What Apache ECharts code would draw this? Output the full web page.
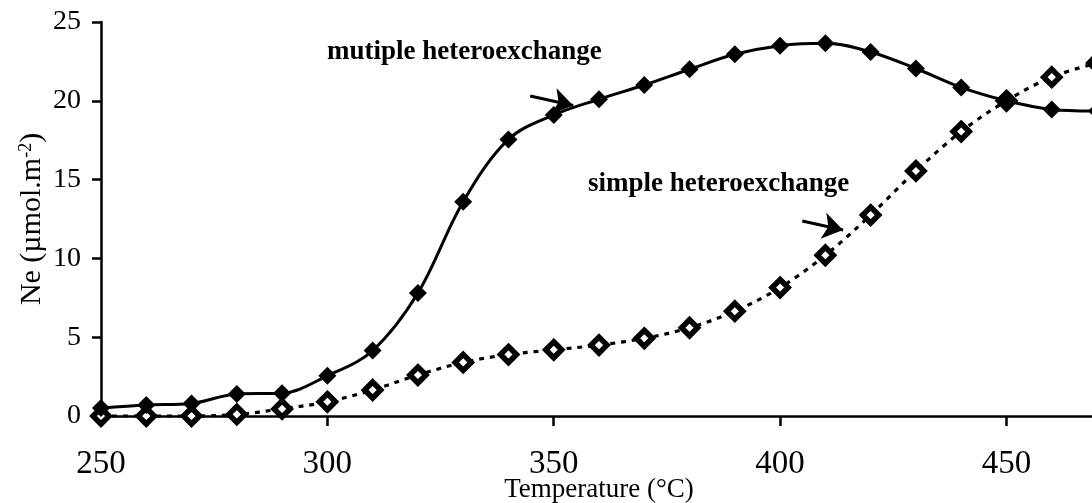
<!DOCTYPE html>
<html>
<head>
<meta charset="utf-8">
<script src="https://cdn.jsdelivr.net/npm/echarts@6/dist/echarts.min.js"></script>
<style>
    html, body { margin: 0; padding: 0; background: #fff; }
    #chart { width: 1092px; height: 503px; }
</style>
</head>
<body>
<div id="chart"></div>
<script>
    // temperature (°C)
    const temps = [250, 260, 270, 280, 290, 300, 310, 320, 330, 340, 350, 360, 370, 380, 390, 400, 410, 420, 430, 440, 450, 460, 470];
    // Ne (µmol.m-2)
    const multipleVals = [0.5, 0.7, 0.8, 1.4, 1.45, 2.55, 4.15, 7.8, 13.6, 17.55, 19.1, 20.1, 21.0, 22.0, 22.95, 23.5, 23.65, 23.1, 22.05, 20.85, 20.0, 19.45, 19.35];
    const simpleVals = [0, 0, 0, 0.1, 0.45, 0.9, 1.65, 2.6, 3.4, 3.9, 4.2, 4.5, 4.93, 5.6, 6.65, 8.15, 10.2, 12.75, 15.55, 18.05, 20.0, 21.5, 22.4];
    const xTickLabels = [250, 300, 350, 400, 450];
    const yTickLabels = [0, 5, 10, 15, 20, 25];
    // arrows pointing to the curves, [from, to] in data space
    const arrowMultiple = [[344.8, 20.3], [354.3, 19.7]];
    const arrowSimple = [[404.9, 12.37], [413.9, 11.8]];

    const serif = "Liberation Serif";
    const chart = echarts.init(document.getElementById("chart"));

    const pair = (a, b) => a.map((v, i) => [v, b[i]]);

    const arrowLine = (pts) => [{ coord: pts[0] }, { coord: pts[1] }];

    const option = {
        animation: false,
        grid: { left: 101, top: 22, width: 996, height: 394, containLabel: false, outerBoundsMode: "none" },
        xAxis: {
            type: "value",
            min: 250,
            max: 470,
            interval: 50,
            name: "Temperature (°C)",
            nameLocation: "middle",
            nameGap: 60,
            nameMoveOverlap: false,
            nameTextStyle: { fontFamily: serif, fontSize: 27, color: "#000" },
            axisLine: { lineStyle: { color: "#000", width: 2.5 } },
            axisTick: { inside: false, length: 10, lineStyle: { color: "#000", width: 2.5 } },
            axisLabel: {
                margin: 32,
                fontFamily: serif,
                fontSize: 33,
                color: "#000",
                formatter: (v) => (xTickLabels.indexOf(v) >= 0 ? String(v) : "")
            },
            splitLine: { show: false }
        },
        yAxis: {
            type: "value",
            min: 0,
            max: 25,
            interval: 5,
            name: "{n|Ne (µmol.m}{s|-2}{n|)}",
            nameLocation: "middle",
            nameGap: 54,
            nameMoveOverlap: false,
            nameTextStyle: {
                rich: {
                    n: { fontFamily: serif, fontSize: 30, color: "#000" },
                    s: { fontFamily: serif, fontSize: 18, color: "#000", verticalAlign: "top", padding: [0, 0, 12, 0] }
                }
            },
            axisLine: { show: true, lineStyle: { color: "#000", width: 2.5 } },
            axisTick: { show: true, length: 9, lineStyle: { color: "#000", width: 2.5 } },
            axisLabel: {
                margin: 20,
                fontFamily: serif,
                fontSize: 28,
                color: "#000",
                formatter: (v) => (yTickLabels.indexOf(v) >= 0 ? String(v) : "")
            },
            splitLine: { show: false }
        },
        graphic: [
            {
                type: "text",
                left: 327,
                top: 39,
                style: { text: "mutiple heteroexchange", font: "bold 27px " + serif, fill: "#000" }
            },
            {
                type: "text",
                left: 588,
                top: 171,
                style: { text: "simple heteroexchange", font: "bold 27px " + serif, fill: "#000" }
            }
        ],
        series: [
            {
                name: "mutiple heteroexchange",
                type: "line",
                smooth: 0.35,
                clip: false,
                data: pair(temps, multipleVals),
                symbol: "diamond",
                symbolSize: [18, 18],
                itemStyle: { color: "#000" },
                lineStyle: { color: "#000", width: 3 },
                markLine: {
                    silent: true,
                    symbol: ["none", "arrow"],
                    symbolSize: 20,
                    label: { show: false },
                    itemStyle: { color: "#000" },
                    lineStyle: { color: "#000", width: 3, type: "solid" },
                    data: [arrowLine(arrowMultiple), arrowLine(arrowSimple)]
                },
                z: 3
            },
            {
                name: "simple heteroexchange",
                type: "line",
                smooth: 0.35,
                clip: false,
                data: pair(temps, simpleVals),
                symbol: "diamond",
                symbolSize: [16, 16],
                itemStyle: { color: "#fff", borderColor: "#000", borderWidth: 5.5 },
                lineStyle: { color: "#000", width: 3.2, type: [5, 6] },
                z: 2
            }
        ]
    };

    chart.setOption(option);
</script>
</body>
</html>
